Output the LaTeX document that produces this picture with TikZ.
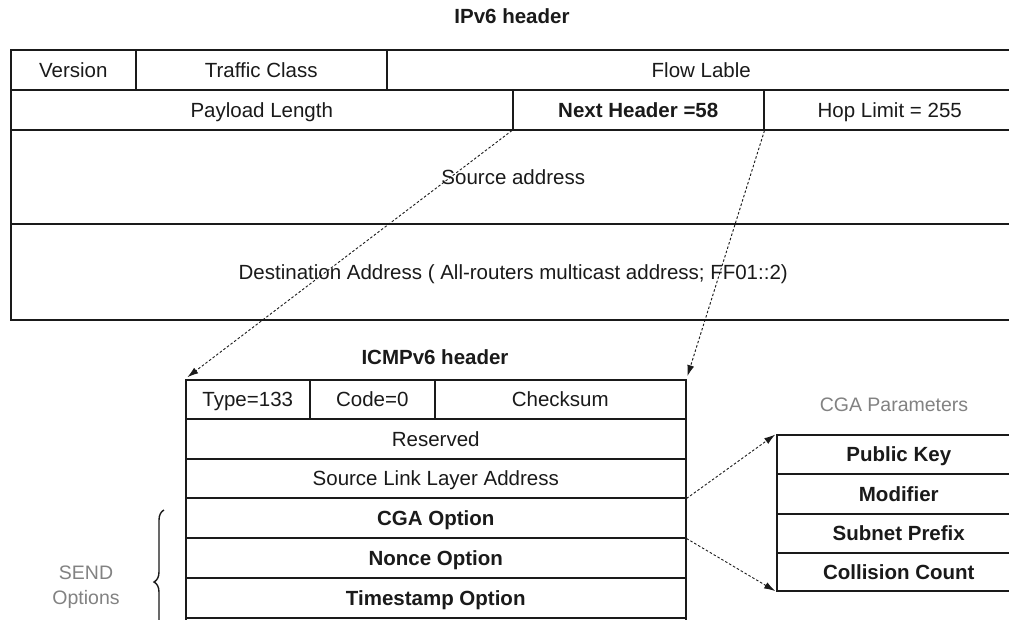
\documentclass[tikz,border=0pt]{standalone}
\usepackage{fontspec}
\setmainfont{Liberation Sans}
\usetikzlibrary{arrows.meta,decorations.pathreplacing}
\definecolor{ink}{HTML}{1A1A1A}
\definecolor{faded}{HTML}{828282}
\tikzset{
  cell/.style={draw=ink, line width=1.5pt, anchor=north west, inner sep=0pt,
    text=ink, text height=14.5pt, text depth=0pt,
    font=\fontsize{20.5}{24}\selectfont},
  boldcell/.style={cell, font=\fontsize{20.5}{24}\selectfont\bfseries},
  heading/.style={text=ink, font=\fontsize{20.5}{24}\selectfont\bfseries},
  note/.style={text=faded, font=\fontsize{19.5}{25}\selectfont, align=center},
  link/.style={draw=ink, line width=0.9pt, dash pattern=on 2.5pt off 2pt,
    -{Latex[length=11pt,width=7pt]}},
}
\begin{document}
\begin{tikzpicture}[x=1pt,y=-1pt]
\useasboundingbox (0,0) rectangle (1009,619);
\fill[white] (0,0) rectangle (1009,619);
\clip (0,0) rectangle (1009,619);

% ---- IPv6 header ----
\node[heading] (ipv6title) at (512,16) {IPv6 header};
\node[cell, minimum width=125pt, minimum height=40pt] (ver) at (10,49) {Version};
\node[cell, minimum width=251pt, minimum height=40pt] (tc)  at (135,49) {Traffic Class};
\node[cell, minimum width=629pt, minimum height=40pt] (fl)  at (386,49) {Flow Lable};
\node[cell, minimum width=502pt, minimum height=40pt] (pl)  at (10,89) {Payload Length};
\node[boldcell, minimum width=251pt, minimum height=40pt] (nh) at (512,89) {Next Header =58};
\node[cell, minimum width=252pt, minimum height=40pt] (hl)  at (763,89) {Hop Limit = 255};
\node[cell, minimum width=1005pt, minimum height=94pt] (src) at (10,129) {Source address};
\node[cell, minimum width=1005pt, minimum height=96pt] (dst) at (10,223)
  {Destination Address ( All-routers multicast address; FF01::2)};

% ---- ICMPv6 header ----
\node[heading] (icmptitle) at (435,357) {ICMPv6 header};
\node[cell, minimum width=124pt, minimum height=39pt] (type) at (185,379) {Type=133};
\node[cell, minimum width=125pt, minimum height=39pt] (code) at (309,379) {Code=0};
\node[cell, minimum width=251pt, minimum height=39pt] (cks)  at (434,379) {Checksum};
\node[cell, minimum width=500pt, minimum height=40pt] (res)  at (185,418) {Reserved};
\node[cell, minimum width=500pt, minimum height=39pt] (slla) at (185,458) {Source Link Layer Address};
\node[boldcell, minimum width=500pt, minimum height=40pt] (cgaopt) at (185,497) {CGA Option};
\node[boldcell, minimum width=500pt, minimum height=40pt] (nonce)  at (185,537) {Nonce Option};
\node[boldcell, minimum width=500pt, minimum height=40pt] (tstamp) at (185,577) {Timestamp Option};
\node[cell, minimum width=500pt, minimum height=40pt] (more) at (185,617) {};

% ---- SEND options brace ----
\node[note] (send) at (86,587) {SEND\\Options};
\coordinate (braceLow) at (164,654);
\coordinate (braceHigh) at (164,510);
\draw[ink, line width=1.4pt, decorate, decoration={brace, amplitude=10pt}]
  (braceLow) -- (braceHigh);

% ---- CGA parameters ----
\node[note] (cgatitle) at (894,405) {CGA Parameters};
\node[boldcell, minimum width=244pt, minimum height=39pt] (pk)  at (776,434) {Public Key};
\node[boldcell, minimum width=244pt, minimum height=40pt] (mod) at (776,473) {Modifier};
\node[boldcell, minimum width=244pt, minimum height=39pt] (sp)  at (776,513) {Subnet Prefix};
\node[boldcell, minimum width=244pt, minimum height=38pt] (cc)  at (776,552) {Collision Count};

% ---- connectors ----
\draw[link, shorten >=3pt] (nh.south west) -- (type.north west);
\draw[link, shorten >=3pt] (nh.south east) -- (cks.north east);
\draw[link, shorten >=1pt] (slla.south east) -- (pk.north west);
\draw[link, shorten >=1pt] (cgaopt.south east) -- (cc.south west);
\end{tikzpicture}
\end{document}
